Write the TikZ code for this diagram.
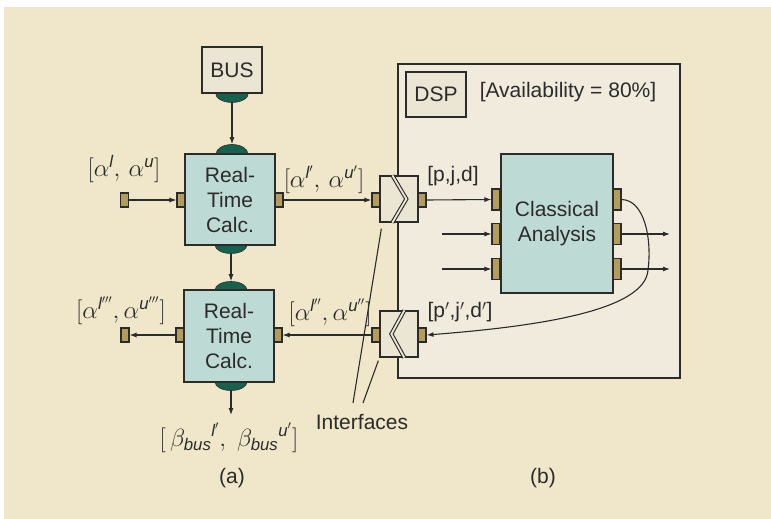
\documentclass[tikz,border=0pt]{standalone}
\usepackage{fontspec}
\setmainfont{Liberation Sans}
\setsansfont{Liberation Sans}
\usetikzlibrary{arrows.meta,calc,shapes.geometric}

\definecolor{paper}{HTML}{F0E6C9}
\definecolor{panel}{HTML}{F0EBDC}
\definecolor{labelbox}{HTML}{EBE6D3}
\definecolor{calcfill}{HTML}{BEDAD4}
\definecolor{domefill}{HTML}{17624F}
\definecolor{portfill}{HTML}{B39C5C}
\definecolor{ink}{HTML}{2B2B2B}

\pgfdeclarelayer{bg}
\pgfdeclarelayer{domes}
\pgfsetlayers{bg,domes,main}

\begin{document}
\begin{tikzpicture}[x=1pt,y=-1pt,
  font=\fontsize{21}{25}\selectfont,
  box/.style={draw=ink, line width=1.3pt, inner sep=0pt, align=center, text=ink},
  calcbox/.style={box, fill=calcfill, minimum width=90pt, minimum height=91pt},
  labelbox/.style={box, fill=labelbox},
  iface/.style={box, fill=labelbox, minimum width=38pt, minimum height=46pt},
  port/.style={draw=ink, line width=1.1pt, fill=portfill, minimum width=8pt,
               minimum height=14pt, inner sep=0pt},
  bigport/.style={port, minimum height=21pt},
  dome/.style={ellipse, draw=ink, line width=0.6pt, fill=domefill,
               minimum width=33pt, minimum height=19pt, inner sep=0pt},
  flow/.style={draw=ink, line width=1.1pt, -{Latex[length=7pt,width=5pt]}},
  chevron/.style={draw=ink, line width=1.1pt, double=labelbox, double distance=1.8pt},
  lead/.style={draw=ink, line width=1.1pt},
  lbl/.style={text=ink, inner sep=0pt},
  mathlbl/.style={lbl, font=\fontsize{24}{28}\selectfont}]

\useasboundingbox (0,0) rectangle (771,519);

% page background
\begin{pgfonlayer}{bg}
  \fill[white] (0,0) rectangle (771,519);
  \fill[paper] (4,7) rectangle (771,519);
\end{pgfonlayer}

% DSP panel (b)
\node[box, line width=1.8pt, fill=panel, minimum width=282pt, minimum height=314pt]
  (dsp) at (539,221) {};
\node[labelbox, minimum width=60pt, minimum height=45pt] (dsplabel) at (436,94.5) {DSP};
\node[lbl] (avail) at (568,92) {[Availability = 80\%]};

% bus and real-time calculation blocks (a)
\node[labelbox, minimum width=60pt, minimum height=46pt] (bus) at (232,70) {BUS};
\node[calcbox] (rt1) at (230,199.5) {Real-\\Time\\Calc.};
\node[calcbox, minimum height=92pt] (rt2) at (229,336) {Real-\\Time\\Calc.};

% bus connection domes
\begin{pgfonlayer}{domes}
  \node[dome] (busd)  at (232,93) {};
  \node[dome, minimum width=32pt] (rt1t) at (232,154) {};
  \node[dome, minimum width=32pt, minimum height=17pt] (rt1b) at (231,245) {};
  \node[dome, minimum width=32pt, minimum height=17pt] (rt2t) at (231,290) {};
  \node[dome, minimum width=32pt, minimum height=17pt] (rt2b) at (231,382) {};
\end{pgfonlayer}

% classical analysis block
\node[box, fill=calcfill, minimum width=112pt, minimum height=139pt]
  (ca) at (557,223.5) {Classical\\Analysis};

% interfaces
\node[iface] (i1) at (399,199) {};
\node[iface] (i2) at (399,334) {};
\draw[chevron] ($(i1.north west)+(13,0)$) -- ($(i1.west)+(27,0)$) -- ($(i1.south west)+(13,0)$);
\draw[chevron] ($(i2.north west)+(25,0)$) -- ($(i2.west)+(12,0)$) -- ($(i2.south west)+(25,0)$);

% ports
\node[port] (in1)  at (124.5,200) {};
\node[port] (p1L)  at (181,200) {};
\node[port] (p1R)  at (279,200) {};
\node[port] (i1L)  at (376,200) {};
\node[port] (i1R)  at (422,200) {};
\node[port] (i2L)  at (376,335) {};
\node[port] (i2R)  at (422,335) {};
\node[port] (p2R)  at (278,335) {};
\node[port] (p2L)  at (180,335) {};
\node[port] (out1) at (125,335) {};
\node[bigport] (c1L) at (496,199.5) {};
\node[bigport] (c2L) at (496,234) {};
\node[bigport] (c3L) at (496,269) {};
\node[bigport] (c1R) at (617,199.5) {};
\node[bigport] (c2R) at (617,234) {};
\node[bigport] (c3R) at (617,269) {};

% free ends of connectors
\coordinate (src2) at (442,234);
\coordinate (src3) at (442,269);
\coordinate (dst2) at (670,234);
\coordinate (dst3) at (670,269);
\coordinate (busout) at (231,415);
\coordinate (loop) at (648,270);

% flows
\draw[flow] (busd.south) -- (rt1t.north);
\draw[flow] (rt1b.south) -- (rt2t.north);
\draw[flow] (rt2b.south) -- (busout);
\draw[flow] (in1.east) -- (p1L.west);
\draw[flow] (p1R.east) -- (i1L.west);
\draw[flow] (i1R.east) -- (c1L.west);
\draw[flow] (src2) -- (c2L.west);
\draw[flow] (src3) -- (c3L.west);
\draw[flow] (c2R.east) -- (dst2);
\draw[flow] (c3R.east) -- (dst3);
\draw[flow] (c1R.east) .. controls (645,200) and (652,240) .. (loop)
  .. controls (645,312) and (530,327) .. (i2R.east);
\draw[flow] (i2L.west) -- (p2R.east);
\draw[flow] (p2L.west) -- (out1.east);

% labels
\node[mathlbl] (la1) at (124,169) {$[\alpha^{\mathit{l}},\,\alpha^{\mathit{u}}]$};
\node[mathlbl] (la2) at (324,180) {$[\alpha^{\mathit{l}'},\,\alpha^{\mathit{u}'}]$};
\node[mathlbl] (la3) at (330,313) {$[\alpha^{\mathit{l}''},\alpha^{\mathit{u}''}]$};
\node[mathlbl] (la4) at (121,311) {$[\alpha^{\mathit{l}'''},\alpha^{\mathit{u}'''}]$};
\node[mathlbl] (lb)  at (229,438) {$[\,{\beta_{\mathit{bus}}}^{\mathit{l}'},\ {\beta_{\mathit{bus}}}^{\mathit{u}'}]$};
\node[lbl] (pjd) at (453,176) {[p,j,d]};
\node[lbl] (pjd2) at (460,312) {[p$'$,j$'$,d$'$]};
\node[lbl] (ifl) at (362,422) {Interfaces};
\node[lbl] (capa) at (232,478) {(a)};
\node[lbl] (capb) at (543,478) {(b)};

% leader lines to the interfaces
\coordinate (lead1) at (353,403);
\coordinate (lead2) at (363,403);
\draw[lead] (lead1) -- ($(i1.south west)+(2,6)$);
\draw[lead] (lead2) -- ($(i2.south west)+(-1,3)$);

\end{tikzpicture}
\end{document}
